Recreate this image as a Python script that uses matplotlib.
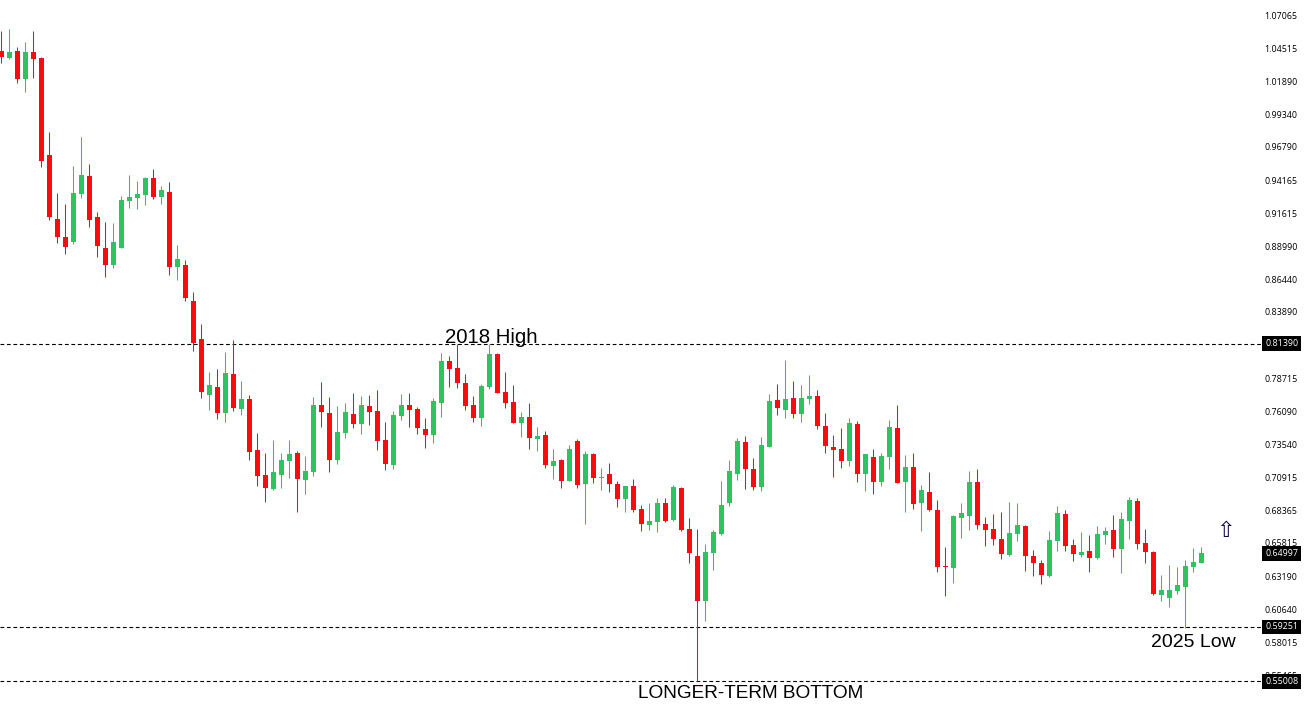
import matplotlib
matplotlib.use("Agg")
import matplotlib.pyplot as plt
import numpy as np

opens = [1.0425,1.0371,1.0425,1.0206,1.0417,1.0371,.9612,.9111,.8971,.8932,
 .9307,.9447,.9127,.8885,.8752,.8885,.9252,.9276,.9299,.9432,
 .9284,.9322,.8736,.8752,.8470,.8173,.7735,.7797,.7595,.7899,
 .7626,.7704,.7305,.7109,.7000,.7109,.7219,.7281,.7070,.7133,
 .7657,.7595,.7227,.7438,.7587,.7508,.7649,.7610,.7383,.7188,
 .7571,.7657,.7626,.7469,.7422,.7672,.8001,.7946,.7829,.7657,
 .7555,.7797,.8056,.7759,.7680,.7516,.7563,.7391,.7422,.7180,
 .7227,.7062,.7375,.7039,.7274,.7086,.7117,.7039,.6922,.7023,
 .6844,.6718,.6742,.6891,.6757,.7008,.6687,.6476,.6124,.6499,
 .6648,.6891,.7117,.7367,.7156,.7016,.7328,.7696,.7618,.7712,
 .7587,.7704,.7727,.7493,.7328,.7313,.7219,.7508,.7117,.7250,
 .7055,.7250,.7477,.7055,.7172,.6891,.6976,.6836,.6398,.6382,
 .6773,.6789,.7055,.6726,.6687,.6609,.6484,.6648,.6710,.6476,
 .6421,.6319,.6593,.6805,.6562,.6484,.6515,.6460,.6640,.6679,
 .6531,.6749,.6906,.6578,.6507,.6171,.6147,.6202,.6233,.6390,.6421]

closes = [1.0378,1.0417,1.0206,1.0417,1.0363,.9565,.9127,.8971,.8893,.9315,
 .9455,.9103,.8900,.8752,.8932,.9260,.9284,.9307,.9432,.9284,
 .9338,.8736,.8799,.8493,.8142,.7759,.7813,.7595,.7907,.7633,
 .7704,.7289,.7102,.7008,.7133,.7227,.7274,.7078,.7141,.7657,
 .7602,.7227,.7446,.7602,.7508,.7657,.7602,.7375,.7196,.7579,
 .7657,.7618,.7477,.7422,.7688,.8001,.7938,.7829,.7649,.7555,
 .7805,.8056,.7750,.7672,.7516,.7563,.7398,.7414,.7188,.7219,
 .7062,.7313,.7031,.7274,.7086,.7094,.7039,.6922,.7023,.6836,
 .6726,.6749,.6891,.6749,.7016,.6679,.6499,.6124,.6507,.6664,
 .6875,.7141,.7375,.7156,.7016,.7344,.7688,.7633,.7704,.7587,
 .7712,.7727,.7493,.7336,.7305,.7219,.7516,.7117,.7274,.7055,
 .7258,.7485,.7047,.7172,.6883,.6992,.6836,.6390,.6390,.6789,
 .6812,.7055,.6718,.6679,.6609,.6492,.6656,.6718,.6476,.6421,
 .6327,.6601,.6812,.6554,.6492,.6507,.6460,.6648,.6671,.6531,
 .6765,.6914,.6570,.6507,.6179,.6210,.6210,.6249,.6398,.6429,.6499]

highs = [1.0581,1.0597,1.0456,1.0495,1.0581,1.0378,.9791,.9315,.9229,.9526,
 .9752,.9541,.9166,.9088,.9080,.9291,.9455,.9408,.9440,.9502,
 .9369,.9401,.8908,.8791,.8540,.8290,.7914,.7938,.8071,.8165,
 .7844,.7735,.7438,.7281,.7383,.7281,.7383,.7297,.7258,.7719,
 .7836,.7719,.7649,.7672,.7750,.7727,.7735,.7774,.7524,.7610,
 .7743,.7750,.7641,.7555,.7712,.8063,.8040,.8134,.7899,.7727,
 .7821,.8134,.8063,.7914,.7813,.7602,.7672,.7485,.7453,.7313,
 .7234,.7344,.7391,.7297,.7281,.7164,.7203,.7062,.7023,.7078,
 .6875,.6891,.6930,.6930,.7031,.7016,.6773,.6687,.6570,.6679,
 .7062,.7227,.7398,.7414,.7242,.7406,.7743,.7821,.8009,.7844,
 .7813,.7891,.7774,.7595,.7422,.7477,.7555,.7532,.7274,.7313,
 .7281,.7539,.7657,.7266,.7281,.7031,.7133,.6914,.6546,.6797,
 .6891,.7141,.7156,.6781,.6805,.6820,.6899,.6891,.6718,.6523,
 .6445,.6671,.6867,.6836,.6609,.6664,.6640,.6710,.6703,.6797,
 .6820,.6937,.6930,.6687,.6515,.6327,.6405,.6390,.6445,.6539,.6546]

lows = [1.0332,1.0363,1.0175,1.0104,1.0214,.9518,.9103,.8924,.8838,.8916,
 .9276,.9049,.8814,.8658,.8728,.8885,.9197,.9190,.9221,.9268,
 .9229,.8673,.8634,.8470,.8079,.7712,.7618,.7547,.7524,.7610,
 .7579,.7227,.7023,.6899,.6992,.7008,.7086,.6820,.6961,.7102,
 .7485,.7133,.7196,.7398,.7477,.7430,.7500,.7305,.7148,.7156,
 .7539,.7485,.7430,.7321,.7360,.7563,.7797,.7789,.7618,.7524,
 .7493,.7782,.7750,.7633,.7516,.7406,.7313,.7297,.7164,.7078,
 .7008,.7062,.7008,.6726,.7047,.6992,.6976,.6859,.6820,.6820,
 .6671,.6679,.6664,.6742,.6749,.6671,.6421,.5498,.5967,.6366,
 .6640,.6867,.7070,.7000,.6992,.6984,.7328,.7579,.7555,.7555,
 .7524,.7665,.7469,.7281,.7094,.7164,.7180,.7055,.6984,.6961,
 .7023,.7156,.7047,.6820,.6844,.6671,.6828,.6351,.6163,.6265,
 .6617,.6679,.6687,.6554,.6562,.6453,.6476,.6593,.6358,.6319,
 .6257,.6311,.6515,.6515,.6437,.6468,.6351,.6453,.6570,.6468,
 .6343,.6609,.6531,.6421,.6171,.6124,.6077,.6179,.5913,.6351,.6421]

tick_labels = ["1.07065","1.04515","1.01890","0.99340","0.96790","0.94165","0.91615",
 "0.88990","0.86440","0.83890","0.81340","0.78715","0.76090","0.73540","0.70915",
 "0.68365","0.65815","0.63190","0.60640","0.58015","0.55465"]

level_values = [0.81390, 0.59251, 0.55008]
last_price = 0.64997
level_labels = ["0.81390", "0.59251", "0.55008"]
last_label = "0.64997"

notes = ["2018 High", "LONGER-TERM BOTTOM", "2025 Low"]
note_x = [61.2, 93.7, 149.0]
note_y = [0.8192, 0.5401, 0.5807]
note_size = [14.7, 13.7, 14.0]

price_offset = 0.0004

RED = "#ff0a0a"
GREEN = "#2dc45e"

W, H = 1304, 704
fig = plt.figure(figsize=(W / 100, H / 100), dpi=100, facecolor="white")
ax = fig.add_axes([0, 0, 1262 / W, 1])
ax.set_xlim(-0.175, 157.575)
ax.set_ylim(0.53224, 1.08277)
for s in ax.spines.values():
    s.set_visible(False)
ax.set_xticks([])
ax.yaxis.tick_right()
ax.set_yticks([float(t) for t in tick_labels])
ax.set_yticklabels(tick_labels, fontfamily="Open Sans", fontsize=6.4, color="#000000")
ax.tick_params(axis="y", length=0, pad=1.6)

o = np.array(opens) + price_offset
c = np.array(closes) + price_offset
hi = np.array(highs) + price_offset
lo = np.array(lows) + price_offset
xs = np.arange(len(o))
colors = [GREEN if b > a else RED for a, b in zip(o, c)]
wicks = ax.vlines(xs, lo, hi, colors=colors, linewidth=0.75, zorder=3)
wicks.set_snap(True)
tops = np.maximum(o, c); bots = np.minimum(o, c)
ax.bar(xs, tops - bots, bottom=bots, width=0.625, color=colors, linewidth=0, zorder=4)

for v in level_values:
    ax.axhline(v, color="black", linewidth=0.8, linestyle=(0, (3.4, 2.4)), zorder=2)

ytrans = ax.get_yaxis_transform()
for v, lab in zip(level_values + [last_price], level_labels + [last_label]):
    ax.text(1 + 3 / 1262, v, lab, transform=ytrans, ha="left", va="center", clip_on=False,
            fontfamily="Open Sans", fontsize=6.4, color="white", zorder=10,
            bbox=dict(boxstyle="square,pad=0.32", fc="black", ec="none"))

for t, x, y, s in zip(notes, note_x, note_y, note_size):
    ax.text(x, y, t, ha="center", va="center", fontfamily="Liberation Sans",
            fontsize=s, color="black", zorder=6)

ax.text(152.97, 0.6676, "\u21e7", ha="center", va="center", fontfamily="DejaVu Sans",
        fontsize=16, color="#14104a", zorder=6)

fig.savefig("out.png", dpi=100, facecolor="white")
